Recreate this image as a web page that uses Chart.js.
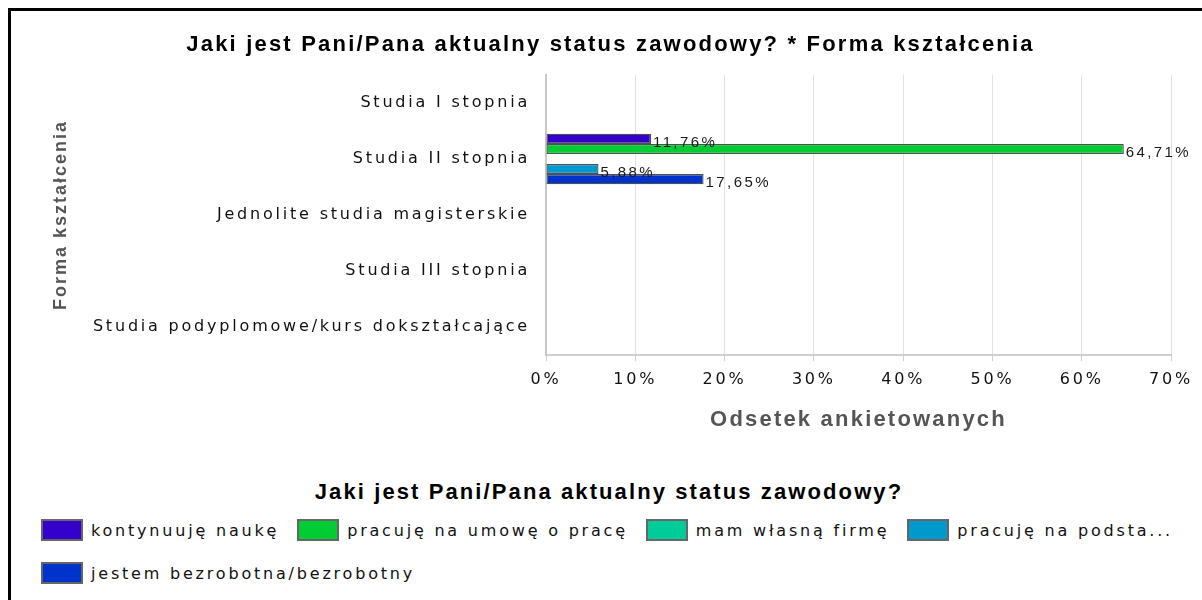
<!DOCTYPE html>
<html lang="pl">
<head>
<meta charset="utf-8">
<title>Jaki jest Pani/Pana aktualny status zawodowy? * Forma kształcenia</title>
<script src="https://cdn.jsdelivr.net/npm/chart.js@4/dist/chart.umd.min.js"></script>
<style>
    html, body { margin: 0; padding: 0; background: #fff; overflow: hidden; }
    #frame {
        position: absolute; left: 8px; top: 8px;
        width: 1210px; height: 620px;
        border: 3px solid #000; box-sizing: border-box;
    }
    #wrap { position: absolute; left: 0; top: 0; width: 1202px; height: 460px; }
    #legendTitle {
        position: absolute; left: 8px; top: 479px; width: 1202px;
        text-align: center;
        font: bold 22px "Liberation Sans", Arial, sans-serif;
        letter-spacing: 2.1px; line-height: 26px; color: #000;
    }
    #legend {
        position: absolute; left: 41px; top: 520px; width: 1160px;
        display: flex; flex-wrap: wrap; row-gap: 23px;
        font: 16px "DejaVu Sans", sans-serif; letter-spacing: 2.8px; color: #111;
    }
    .item { display: flex; align-items: center; height: 20px; margin-right: 18px; white-space: nowrap; }
    .swatch { width: 38px; height: 18px; border: 2px solid #666; margin-right: 8px; }
</style>
</head>
<body>
<div id="frame"></div>
<div id="wrap"><canvas id="chart" width="1202" height="460"></canvas></div>
<div id="legendTitle">Jaki jest Pani/Pana aktualny status zawodowy?</div>
<div id="legend"></div>
<script>
// Forma kształcenia (y axis)
const categories = [
    "Studia I stopnia",
    "Studia II stopnia",
    "Jednolite studia magisterskie",
    "Studia III stopnia",
    "Studia podyplomowe/kurs dokształcające"
]

// Jaki jest Pani/Pana aktualny status zawodowy? (series names)
const statusLabels = [
    "kontynuuję naukę",
    "pracuję na umowę o pracę",
    "mam własną firmę",
    "pracuję na podsta...",
    "jestem bezrobotna/bezrobotny"
]
const statusColors = ["#3300CC", "#00CC33", "#00CC99", "#0099CC", "#0033CC"]

// Odsetek ankietowanych, in % per category
const kontynuujeNauke = [0, 11.76, 0, 0, 0]
const pracujeNaUmowe = [0, 64.71, 0, 0, 0]
const mamWlasnaFirme = [0, 0, 0, 0, 0]
const pracujeNaPodstawie = [0, 5.88, 0, 0, 0]
const bezrobotny = [0, 17.65, 0, 0, 0]

const xTicks = [0, 10, 20, 30, 40, 50, 60, 70]

const FONT_BOLD = "'Liberation Sans', Arial, sans-serif"
const FONT_TEXT = "'DejaVu Sans', sans-serif"

/**
 * letter spacing per font size, the source chart draws its text spaced out
 * @param {string} font
 * @returns {string}
 */
function spacingFor(font) {
    const size = parseFloat((font.match(/([\d.]+)px/) || [0, 0])[1])
    const table = { 22: "2.2px", 18: "2px", 16: "2.8px", 15: "2.4px" }
    return table[size] || "0px"
}

const spacingPlugin = {
    id: "spacing",
    beforeInit(chart) {
        const ctx = chart.ctx
        const proto = CanvasRenderingContext2D.prototype
        ctx.fillText = function (text, x, y, maxWidth) {
            this.letterSpacing = spacingFor(this.font)
            return maxWidth === undefined
                ? proto.fillText.call(this, text, x, y)
                : proto.fillText.call(this, text, x, y, maxWidth)
        }
        ctx.measureText = function (text) {
            this.letterSpacing = spacingFor(this.font)
            return proto.measureText.call(this, text)
        }
    }
}

// value labels at the end of every bar, like 11,76%
const valueLabels = {
    id: "valueLabels",
    afterDatasetsDraw(chart) {
        const ctx = chart.ctx
        ctx.save()
        ctx.font = "15px 'Liberation Sans', Arial, sans-serif"
        ctx.fillStyle = "#1a1a1a"
        ctx.textAlign = "left"
        ctx.textBaseline = "middle"
        chart.data.datasets.forEach((dataset, i) => {
            chart.getDatasetMeta(i).data.forEach((bar, j) => {
                const value = dataset.data[j]
                if (!value) return
                ctx.fillText(value.toFixed(2).replace(".", ",") + "%", bar.x + 2, bar.y + 4)
            })
        })
        ctx.restore()
    }
}

function main() {
    const series = [kontynuujeNauke, pracujeNaUmowe, mamWlasnaFirme, pracujeNaPodstawie, bezrobotny]

    new Chart(document.getElementById("chart"), {
        type: "bar",
        data: {
            labels: categories,
            datasets: series.map((data, i) => ({
                label: statusLabels[i],
                data,
                backgroundColor: statusColors[i],
                borderColor: "#505050",
                borderWidth: 1.3,
                borderSkipped: false,
                categoryPercentage: 0.9,
                barPercentage: 1
            }))
        },
        options: {
            indexAxis: "y",
            responsive: false,
            animation: false,
            layout: { padding: { left: 47, right: 28, top: 0, bottom: 22.8 } },
            plugins: {
                legend: { display: false },
                tooltip: { enabled: false },
                title: {
                    display: true,
                    text: "Jaki jest Pani/Pana aktualny status zawodowy? * Forma kształcenia",
                    color: "#000",
                    font: { family: FONT_BOLD, size: 22, weight: "bold", lineHeight: 1.2 },
                    padding: { top: 31.8, bottom: 16.8 }
                }
            },
            scales: {
                x: {
                    min: 0,
                    max: 70,
                    afterBuildTicks: scale => { scale.ticks = xTicks.map(value => ({ value })) },
                    afterFit: scale => { scale.height = 82.2 },
                    grid: { color: "#e2e2e2", tickColor: "#cfcfcf", tickLength: 6, lineWidth: 1 },
                    border: { color: "#cfcfcf", width: 2 },
                    ticks: {
                        color: "#111",
                        padding: 9,
                        font: { family: FONT_TEXT, size: 16 },
                        callback: value => value + "%"
                    },
                    title: {
                        display: true,
                        text: "Odsetek ankietowanych",
                        color: "#555",
                        font: { family: FONT_BOLD, size: 22, weight: "bold", lineHeight: 1.2 },
                        padding: { top: 4, bottom: 4 }
                    }
                },
                y: {
                    afterFit: scale => { scale.width = 499 },
                    grid: { display: false },
                    border: { color: "#c8c8c8", width: 2 },
                    ticks: {
                        color: "#111",
                        padding: 8,
                        font: { family: FONT_TEXT, size: 16 }
                    },
                    title: {
                        display: true,
                        text: "Forma kształcenia",
                        color: "#555",
                        font: { family: FONT_BOLD, size: 18, weight: "bold", lineHeight: 1.2 },
                        padding: { top: 3, bottom: 3 }
                    }
                }
            }
        },
        plugins: [spacingPlugin, valueLabels]
    })

    // legend below the chart
    const legend = document.getElementById("legend")
    statusLabels.forEach((label, i) => {
        const item = document.createElement("div")
        item.className = "item"
        const swatch = document.createElement("span")
        swatch.className = "swatch"
        swatch.style.background = statusColors[i]
        const text = document.createElement("span")
        text.append(label)
        item.append(swatch, text)
        legend.append(item)
    })
}

window.onload = main
</script>
</body>
</html>
